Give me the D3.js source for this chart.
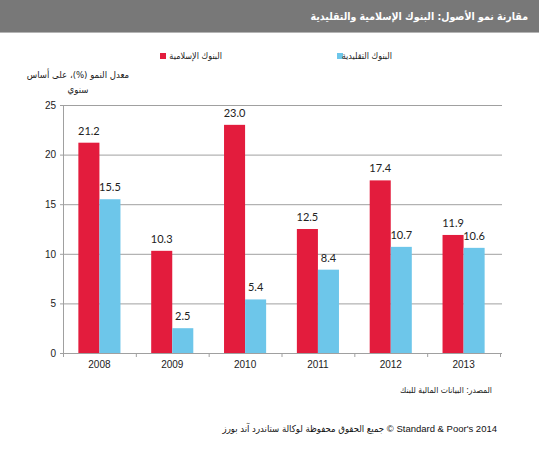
<!DOCTYPE html>
<html>
<head>
<meta charset="utf-8">
<script src="https://cdn.jsdelivr.net/npm/d3@7"></script>
<style>
  body { margin: 0; background: #fff; }
  svg { display: block; }
</style>
</head>
<body>
<div id="chart"></div>
<script>
const years = ['2008', '2009', '2010', '2011', '2012', '2013'];
const islamic = [21.2, 10.3, 23.0, 12.5, 17.4, 11.9];
const conventional = [15.5, 2.5, 5.4, 8.4, 10.7, 10.6];
const seriesNames = ['البنوك الإسلامية', 'البنوك التقليدية'];
const yTicks = [0, 5, 10, 15, 20, 25];

const W = 539, H = 450;
const margin = { top: 105, right: 39, bottom: 97, left: 63 };
const width = W - margin.left - margin.right;
const height = H - margin.top - margin.bottom;
const colors = ['#e31c3d', '#6dc6ea'];
const latin = 'Liberation Sans, Arial, DejaVu Sans Condensed, DejaVu Sans, sans-serif';
const arabic = 'DejaVu Sans Condensed, DejaVu Sans, sans-serif';

const svg = d3.select('#chart').append('svg')
  .attr('width', W).attr('height', H);

// Header bar
svg.append('rect').attr('x', 0).attr('y', 0).attr('width', W).attr('height', 32)
  .attr('fill', '#787878');
svg.append('line').attr('x1', 0).attr('x2', W).attr('y1', 32.5).attr('y2', 32.5)
  .attr('stroke', '#b4b4b4');
svg.append('text')
  .attr('x', 528).attr('y', 20)
  .attr('direction', 'rtl')
  .attr('text-anchor', 'start')
  .attr('fill', '#fff')
  .style('font', `bold 10.5px ${arabic}`)
  .text('مقارنة نمو الأصول: البنوك الإسلامية والتقليدية');

const viz = svg.append('g').attr('transform', `translate(${margin.left},${margin.top})`);

const x = d3.scaleBand().domain(years).range([0, width]).padding(0);
const sub = d3.scaleBand().domain([0, 1]).range([0, x.bandwidth()]).paddingInner(0).paddingOuter(0.73);
const y = d3.scaleLinear().domain([0, 25]).range([height, 0]);

// Gridlines + y axis
viz.append('g')
  .call(d3.axisLeft(y).tickValues(yTicks).tickSize(-width - 2).tickPadding(7))
  .call(g => g.select('.domain').remove())
  .call(g => g.selectAll('.tick line').attr('stroke', '#a0a0a0').attr('x1', -3))
  .call(g => g.selectAll('.tick text').attr('fill', '#222').style('font', `10px ${latin}`));
viz.append('line').attr('x1', 0.5).attr('x2', 0.5).attr('y1', 0).attr('y2', height)
  .attr('stroke', '#a0a0a0');

// Bars
const groups = viz.selectAll('.grp').data(years).join('g')
  .attr('class', 'grp')
  .attr('transform', d => `translate(${x(d)},0)`);

const rows = (d, i) => [islamic[i], conventional[i]].map((v, k) => ({ v, k }));

groups.selectAll('rect').data(rows).join('rect')
  .attr('x', d => sub(d.k))
  .attr('width', sub.bandwidth())
  .attr('y', d => y(d.v))
  .attr('height', d => height - y(d.v))
  .attr('fill', d => colors[d.k]);

groups.selectAll('text').data(rows).join('text')
  .attr('x', d => sub(d.k) + sub.bandwidth() / 2)
  .attr('y', d => y(d.v) - 8)
  .attr('text-anchor', 'middle')
  .attr('fill', '#222')
  .style('font', '11px Lato, Open Sans, sans-serif')
  .text(d => d.v.toFixed(1));

// X axis with ticks between categories
viz.append('line').attr('x1', 0).attr('x2', width).attr('y1', height + 0.5).attr('y2', height + 0.5)
  .attr('stroke', '#a0a0a0');
viz.selectAll('.xtick').data(d3.range(years.length + 1)).join('line')
  .attr('class', 'xtick')
  .attr('x1', i => i * x.step() + 0.5).attr('x2', i => i * x.step() + 0.5)
  .attr('y1', height).attr('y2', height + 4)
  .attr('stroke', '#a0a0a0');
viz.selectAll('.xlab').data(years).join('text')
  .attr('class', 'xlab')
  .attr('x', d => x(d) + x.bandwidth() / 2)
  .attr('y', height + 15)
  .attr('text-anchor', 'middle')
  .attr('fill', '#222')
  .style('font', `10px ${latin}`)
  .text(d => d);

// Legend
const legendPos = [{ sq: 160, tx: 222 }, { sq: 337, tx: 392 }];
seriesNames.forEach((name, k) => {
  svg.append('rect').attr('x', legendPos[k].sq).attr('y', 53).attr('width', 6).attr('height', 6)
    .attr('fill', colors[k]);
  svg.append('text').attr('x', legendPos[k].tx).attr('y', 59)
    .attr('direction', 'rtl').attr('text-anchor', 'start')
    .attr('fill', '#222')
    .style('font', `9px ${arabic}`)
    .text(name);
});

// Y axis title
const yTitle = ['معدل النمو (%)، على أساس', 'سنوي'];
svg.selectAll('.ytitle').data(yTitle).join('text')
  .attr('class', 'ytitle')
  .attr('x', 78).attr('y', (d, i) => 78 + i * 15)
  .attr('direction', 'rtl')
  .attr('text-anchor', 'middle')
  .attr('fill', '#222')
  .style('font', `9.5px ${arabic}`)
  .text(d => d);

// Source and copyright
svg.append('text').attr('x', 492).attr('y', 393)
  .attr('direction', 'rtl').attr('text-anchor', 'start')
  .attr('fill', '#222')
  .style('font', `8.5px ${arabic}`)
  .text('المصدر: البيانات المالية للبنك');
svg.append('text').attr('x', 497).attr('y', 432)
  .attr('direction', 'rtl').attr('text-anchor', 'start')
  .attr('fill', '#111')
  .style('font', `9.5px ${latin}`)
  .text('Standard & Poor\'s 2014 © جميع الحقوق محفوظة لوكالة ستاندرد آند بورز');
</script>
</body>
</html>
